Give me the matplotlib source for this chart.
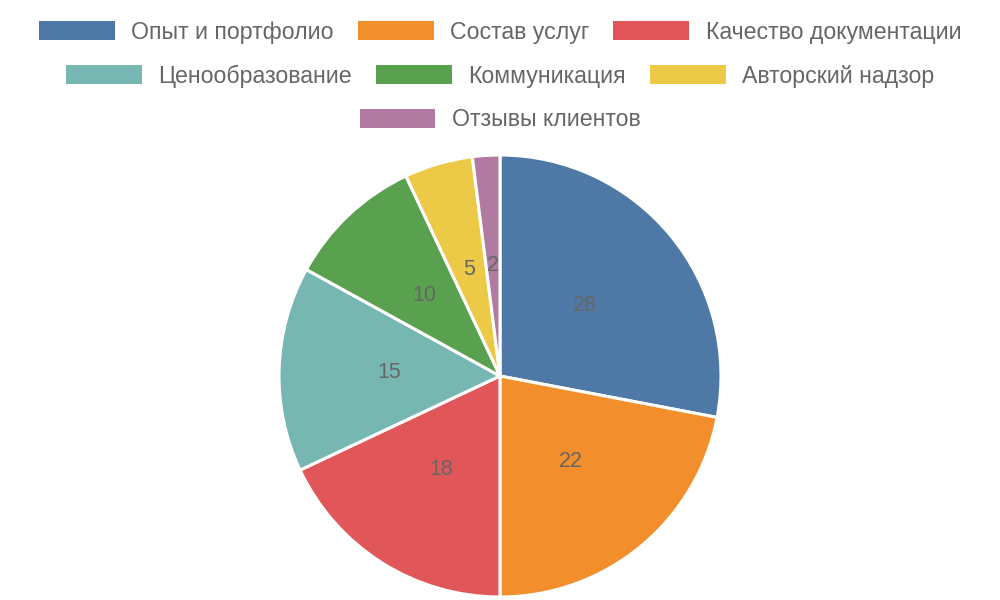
import matplotlib
matplotlib.use("Agg")
import matplotlib.pyplot as plt
from matplotlib.patches import Patch

plt.rcParams['font.family'] = ['Liberation Sans', 'DejaVu Sans']

categories = ["Опыт и портфолио", "Состав услуг", "Качество документации",
              "Ценообразование", "Коммуникация", "Авторский надзор",
              "Отзывы клиентов"]
values = [28, 22, 18, 15, 10, 5, 2]
colors = ["#4e79a7", "#f28e2b", "#e15759", "#76b7b2", "#59a14f", "#edc948", "#b07aa1"]
legend_rows = [[0, 1, 2], [3, 4, 5], [6]]

W, H = 1000, 600
fig = plt.figure(figsize=(W / 100, H / 100), dpi=100)

# pie centered at (500, 376) px, radius ~221 px
cx, cy, r = 500, 376, 221
ax = fig.add_axes([(cx - r) / W, (H - cy - r) / H, 2 * r / W, 2 * r / H])
wedges, texts = ax.pie(values, colors=colors, startangle=90, counterclock=False,
                       labels=[str(v) for v in values], labeldistance=0.5,
                       radius=1,
                       wedgeprops=dict(edgecolor="white", linewidth=2.2, clip_on=False),
                       textprops=dict(color="#666666", fontsize=15.5))
for t in texts:
    t.set_ha("center")
    t.set_va("center")
ax.set_xlim(-1, 1)
ax.set_ylim(-1, 1)
ax.set_aspect("equal")
ax.axis("off")

fs = 16.7
row_y = [32, 76, 120]
for row, y in zip(legend_rows, row_y):
    handles = [Patch(facecolor=colors[i], edgecolor="none") for i in row]
    labels = [categories[i] for i in row]
    leg = fig.legend(handles, labels, loc="center", bbox_to_anchor=(0.5, 1 - y / H),
                     ncol=len(row), frameon=False, fontsize=fs,
                     handlelength=3.27, handleheight=0.85, handletextpad=0.7,
                     columnspacing=1.05, borderpad=0, borderaxespad=0)
    for t in leg.get_texts():
        t.set_color("#666666")

fig.savefig("out.png", dpi=100)
